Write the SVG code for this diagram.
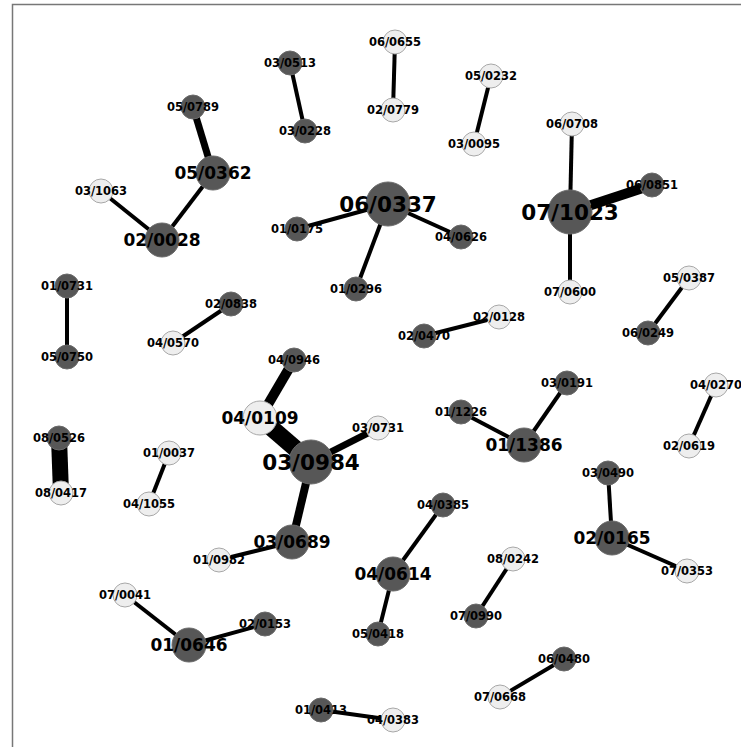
<svg xmlns="http://www.w3.org/2000/svg" width="741" height="747" viewBox="0 0 741 747">
<style>
.e{stroke:#000;stroke-linecap:butt;fill:none}
.d{fill:#575757;stroke:#6a6a6a;stroke-width:1}
.l{fill:#eeeeee;stroke:#a8a8a8;stroke-width:1}
text{font-family:"DejaVu Sans",sans-serif;font-weight:bold;fill:#000;text-anchor:middle;dominant-baseline:central}
.s{font-size:11.5px}
.m{font-size:17px}
.b{font-size:21.5px}
</style>
<rect width="741" height="747" fill="#fff"/>
<path d="M12.5,747 V4.5 H741" fill="none" stroke="#777" stroke-width="1.5"/>
<g id="edges">
<line class="e" x1="193" y1="107" x2="213" y2="173" stroke-width="7"/>
<line class="e" x1="213" y1="173" x2="162" y2="240" stroke-width="4"/>
<line class="e" x1="101" y1="191" x2="162" y2="240" stroke-width="4"/>
<line class="e" x1="290" y1="63" x2="305" y2="131" stroke-width="4"/>
<line class="e" x1="395" y1="42" x2="393" y2="110" stroke-width="4"/>
<line class="e" x1="491" y1="76" x2="474" y2="144" stroke-width="4"/>
<line class="e" x1="388" y1="204" x2="297" y2="229" stroke-width="4"/>
<line class="e" x1="388" y1="204" x2="461" y2="237" stroke-width="4"/>
<line class="e" x1="388" y1="204" x2="356" y2="289" stroke-width="4"/>
<line class="e" x1="572" y1="124" x2="570" y2="212" stroke-width="4"/>
<line class="e" x1="570" y1="212" x2="652" y2="185" stroke-width="10"/>
<line class="e" x1="570" y1="212" x2="570" y2="292" stroke-width="4"/>
<line class="e" x1="67" y1="286" x2="67" y2="357" stroke-width="4"/>
<line class="e" x1="231" y1="304" x2="173" y2="343" stroke-width="4"/>
<line class="e" x1="59" y1="438" x2="61" y2="493" stroke-width="16"/>
<line class="e" x1="169" y1="453" x2="149" y2="504" stroke-width="4"/>
<line class="e" x1="424" y1="336" x2="499" y2="317" stroke-width="4"/>
<line class="e" x1="294" y1="360" x2="260" y2="418" stroke-width="10"/>
<line class="e" x1="260" y1="418" x2="311" y2="462" stroke-width="17"/>
<line class="e" x1="311" y1="462" x2="378" y2="428" stroke-width="7"/>
<line class="e" x1="311" y1="462" x2="292" y2="542" stroke-width="8"/>
<line class="e" x1="292" y1="542" x2="219" y2="560" stroke-width="4"/>
<line class="e" x1="461" y1="412" x2="524" y2="445" stroke-width="4"/>
<line class="e" x1="524" y1="445" x2="567" y2="383" stroke-width="4"/>
<line class="e" x1="689" y1="278" x2="648" y2="333" stroke-width="4"/>
<line class="e" x1="716" y1="385" x2="689" y2="446" stroke-width="4"/>
<line class="e" x1="608" y1="473" x2="612" y2="538" stroke-width="4"/>
<line class="e" x1="612" y1="538" x2="687" y2="571" stroke-width="4"/>
<line class="e" x1="443" y1="505" x2="393" y2="574" stroke-width="4"/>
<line class="e" x1="393" y1="574" x2="378" y2="634" stroke-width="4"/>
<line class="e" x1="513" y1="559" x2="476" y2="616" stroke-width="4"/>
<line class="e" x1="125" y1="595" x2="189" y2="645" stroke-width="4"/>
<line class="e" x1="189" y1="645" x2="265" y2="624" stroke-width="4"/>
<line class="e" x1="321" y1="710" x2="393" y2="720" stroke-width="4"/>
<line class="e" x1="564" y1="659" x2="500" y2="697" stroke-width="4"/>
</g>
<g id="n-05-0789"><circle class="d" cx="193" cy="107" r="12"/><text class="s" x="193" y="107">05/0789</text></g>
<g id="n-05-0362"><circle class="d" cx="213" cy="173" r="17"/><text class="m" x="213" y="173">05/0362</text></g>
<g id="n-03-1063"><circle class="l" cx="101" cy="191" r="12"/><text class="s" x="101" y="191">03/1063</text></g>
<g id="n-02-0028"><circle class="d" cx="162" cy="240" r="17"/><text class="m" x="162" y="240">02/0028</text></g>
<g id="n-03-0513"><circle class="d" cx="290" cy="63" r="12"/><text class="s" x="290" y="63">03/0513</text></g>
<g id="n-03-0228"><circle class="d" cx="305" cy="131" r="12"/><text class="s" x="305" y="131">03/0228</text></g>
<g id="n-06-0655"><circle class="l" cx="395" cy="42" r="12"/><text class="s" x="395" y="42">06/0655</text></g>
<g id="n-02-0779"><circle class="l" cx="393" cy="110" r="12"/><text class="s" x="393" y="110">02/0779</text></g>
<g id="n-05-0232"><circle class="l" cx="491" cy="76" r="12"/><text class="s" x="491" y="76">05/0232</text></g>
<g id="n-03-0095"><circle class="l" cx="474" cy="144" r="12"/><text class="s" x="474" y="144">03/0095</text></g>
<g id="n-06-0337"><circle class="d" cx="388" cy="204" r="22"/><text class="b" x="388" y="204">06/0337</text></g>
<g id="n-01-0175"><circle class="d" cx="297" cy="229" r="12"/><text class="s" x="297" y="229">01/0175</text></g>
<g id="n-04-0626"><circle class="d" cx="461" cy="237" r="12"/><text class="s" x="461" y="237">04/0626</text></g>
<g id="n-01-0296"><circle class="d" cx="356" cy="289" r="12"/><text class="s" x="356" y="289">01/0296</text></g>
<g id="n-06-0708"><circle class="l" cx="572" cy="124" r="12"/><text class="s" x="572" y="124">06/0708</text></g>
<g id="n-06-0851"><circle class="d" cx="652" cy="185" r="12"/><text class="s" x="652" y="185">06/0851</text></g>
<g id="n-07-1023"><circle class="d" cx="570" cy="212" r="22"/><text class="b" x="570" y="212">07/1023</text></g>
<g id="n-07-0600"><circle class="l" cx="570" cy="292" r="12"/><text class="s" x="570" y="292">07/0600</text></g>
<g id="n-01-0731"><circle class="d" cx="67" cy="286" r="12"/><text class="s" x="67" y="286">01/0731</text></g>
<g id="n-05-0750"><circle class="d" cx="67" cy="357" r="12"/><text class="s" x="67" y="357">05/0750</text></g>
<g id="n-02-0838"><circle class="d" cx="231" cy="304" r="12"/><text class="s" x="231" y="304">02/0838</text></g>
<g id="n-04-0570"><circle class="l" cx="173" cy="343" r="12"/><text class="s" x="173" y="343">04/0570</text></g>
<g id="n-08-0526"><circle class="d" cx="59" cy="438" r="12"/><text class="s" x="59" y="438">08/0526</text></g>
<g id="n-08-0417"><circle class="l" cx="61" cy="493" r="12"/><text class="s" x="61" y="493">08/0417</text></g>
<g id="n-01-0037"><circle class="l" cx="169" cy="453" r="12"/><text class="s" x="169" y="453">01/0037</text></g>
<g id="n-04-1055"><circle class="l" cx="149" cy="504" r="12"/><text class="s" x="149" y="504">04/1055</text></g>
<g id="n-02-0470"><circle class="d" cx="424" cy="336" r="12"/><text class="s" x="424" y="336">02/0470</text></g>
<g id="n-02-0128"><circle class="l" cx="499" cy="317" r="12"/><text class="s" x="499" y="317">02/0128</text></g>
<g id="n-04-0946"><circle class="d" cx="294" cy="360" r="12"/><text class="s" x="294" y="360">04/0946</text></g>
<g id="n-04-0109"><circle class="l" cx="260" cy="418" r="17"/><text class="m" x="260" y="418">04/0109</text></g>
<g id="n-03-0984"><circle class="d" cx="311" cy="462" r="22"/><text class="b" x="311" y="462">03/0984</text></g>
<g id="n-03-0731"><circle class="l" cx="378" cy="428" r="12"/><text class="s" x="378" y="428">03/0731</text></g>
<g id="n-03-0689"><circle class="d" cx="292" cy="542" r="17"/><text class="m" x="292" y="542">03/0689</text></g>
<g id="n-01-0982"><circle class="l" cx="219" cy="560" r="12"/><text class="s" x="219" y="560">01/0982</text></g>
<g id="n-01-1226"><circle class="d" cx="461" cy="412" r="12"/><text class="s" x="461" y="412">01/1226</text></g>
<g id="n-01-1386"><circle class="d" cx="524" cy="445" r="17"/><text class="m" x="524" y="445">01/1386</text></g>
<g id="n-03-0191"><circle class="d" cx="567" cy="383" r="12"/><text class="s" x="567" y="383">03/0191</text></g>
<g id="n-05-0387"><circle class="l" cx="689" cy="278" r="12"/><text class="s" x="689" y="278">05/0387</text></g>
<g id="n-06-0249"><circle class="d" cx="648" cy="333" r="12"/><text class="s" x="648" y="333">06/0249</text></g>
<g id="n-04-0270"><circle class="l" cx="716" cy="385" r="12"/><text class="s" x="716" y="385">04/0270</text></g>
<g id="n-02-0619"><circle class="l" cx="689" cy="446" r="12"/><text class="s" x="689" y="446">02/0619</text></g>
<g id="n-03-0490"><circle class="d" cx="608" cy="473" r="12"/><text class="s" x="608" y="473">03/0490</text></g>
<g id="n-02-0165"><circle class="d" cx="612" cy="538" r="17"/><text class="m" x="612" y="538">02/0165</text></g>
<g id="n-07-0353"><circle class="l" cx="687" cy="571" r="12"/><text class="s" x="687" y="571">07/0353</text></g>
<g id="n-04-0385"><circle class="d" cx="443" cy="505" r="12"/><text class="s" x="443" y="505">04/0385</text></g>
<g id="n-04-0614"><circle class="d" cx="393" cy="574" r="17"/><text class="m" x="393" y="574">04/0614</text></g>
<g id="n-05-0418"><circle class="d" cx="378" cy="634" r="12"/><text class="s" x="378" y="634">05/0418</text></g>
<g id="n-08-0242"><circle class="l" cx="513" cy="559" r="12"/><text class="s" x="513" y="559">08/0242</text></g>
<g id="n-07-0990"><circle class="d" cx="476" cy="616" r="12"/><text class="s" x="476" y="616">07/0990</text></g>
<g id="n-07-0041"><circle class="l" cx="125" cy="595" r="12"/><text class="s" x="125" y="595">07/0041</text></g>
<g id="n-01-0646"><circle class="d" cx="189" cy="645" r="17"/><text class="m" x="189" y="645">01/0646</text></g>
<g id="n-02-0153"><circle class="d" cx="265" cy="624" r="12"/><text class="s" x="265" y="624">02/0153</text></g>
<g id="n-01-0413"><circle class="d" cx="321" cy="710" r="12"/><text class="s" x="321" y="710">01/0413</text></g>
<g id="n-04-0383"><circle class="l" cx="393" cy="720" r="12"/><text class="s" x="393" y="720">04/0383</text></g>
<g id="n-06-0480"><circle class="d" cx="564" cy="659" r="12"/><text class="s" x="564" y="659">06/0480</text></g>
<g id="n-07-0668"><circle class="l" cx="500" cy="697" r="12"/><text class="s" x="500" y="697">07/0668</text></g>
</svg>
